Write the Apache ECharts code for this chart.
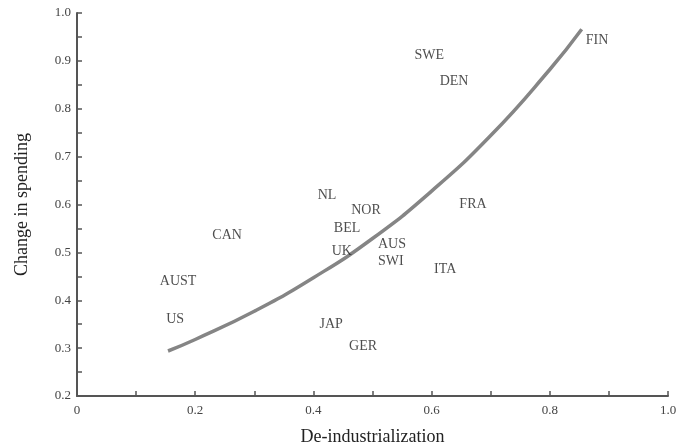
<!DOCTYPE html>
<html>
<head>
<meta charset="utf-8">
<script src="https://cdn.jsdelivr.net/npm/echarts@6/dist/echarts.min.js"></script>
<style>html,body{margin:0;padding:0;background:#fff;}#c{width:677px;height:447px;}</style>
</head>
<body>
<div id="c"></div>
<script>
var countries = ['FIN','SWE','DEN','NL','NOR','BEL','CAN','UK','AUS','SWI','FRA','ITA','AUST','US','JAP','GER'];
var deindustrialization = [0.880,0.596,0.638,0.423,0.489,0.457,0.254,0.448,0.533,0.531,0.670,0.623,0.171,0.166,0.430,0.484];
var spendingChange = [0.943,0.912,0.858,0.620,0.588,0.551,0.536,0.503,0.517,0.482,0.601,0.465,0.440,0.361,0.350,0.304];
var curveX = [0.154,0.2,0.3,0.4,0.5,0.6,0.7,0.8,0.854];
var curveY = [0.294,0.318,0.377,0.447,0.529,0.628,0.744,0.882,0.966];

var FONT = '"Liberation Serif", "DejaVu Serif", serif';
var chart = echarts.init(document.getElementById('c'));
var labelData = countries.map(function(n, i){ return {name: n, value: [deindustrialization[i], spendingChange[i]]}; });
var curveData = curveX.map(function(x, i){ return [x, curveY[i]]; });
var axisCol = '#555';
chart.setOption({
  animation: false,
  backgroundColor: '#fff',
  grid: {left: 77, right: 9, top: 13, bottom: 51, outerBoundsMode: 'none', containLabel: false},
  xAxis: {
    type: 'value', min: 0, max: 1, interval: 0.1,
    name: 'De-industrialization', nameLocation: 'middle', nameGap: 32,
    nameTextStyle: {fontFamily: FONT, fontSize: 18, color: '#222'},
    axisLine: {show: true, lineStyle: {color: axisCol, width: 2}},
    axisTick: {show: true, inside: true, length: 5, lineStyle: {color: axisCol, width: 1.5}},
    splitLine: {show: false},
    axisLabel: {
      fontFamily: FONT, fontSize: 13, color: '#444', margin: 8,
      formatter: function(v){ var k = Math.round(v*10); if (k % 2) return ''; if (k === 0) return '0'; return (k/10).toFixed(1); }
    }
  },
  yAxis: {
    type: 'value', min: 0.2, max: 1.0, interval: 0.05,
    name: 'Change in spending', nameLocation: 'middle', nameGap: 46, nameRotate: 90,
    nameTextStyle: {fontFamily: FONT, fontSize: 18, color: '#222'},
    axisLine: {show: true, lineStyle: {color: axisCol, width: 2}},
    axisTick: {show: true, inside: true, length: 5, lineStyle: {color: axisCol, width: 1.5}},
    splitLine: {show: false},
    axisLabel: {
      fontFamily: FONT, fontSize: 13, color: '#444', margin: 6,
      formatter: function(v){ var k = Math.round(v*20); if (k % 2) return ''; return (k/20).toFixed(1); }
    }
  },
  series: [
    {
      type: 'line', data: curveData, smooth: true, symbol: 'none',
      lineStyle: {color: '#858585', width: 3.5}, z: 2
    },
    {
      type: 'scatter', data: labelData, symbolSize: 1,
      itemStyle: {color: 'rgba(0,0,0,0)'},
      label: {show: true, position: 'inside', formatter: '{b}', fontFamily: FONT, fontSize: 14, color: '#222'},
      z: 3
    }
  ]
});
</script>
</body>
</html>
